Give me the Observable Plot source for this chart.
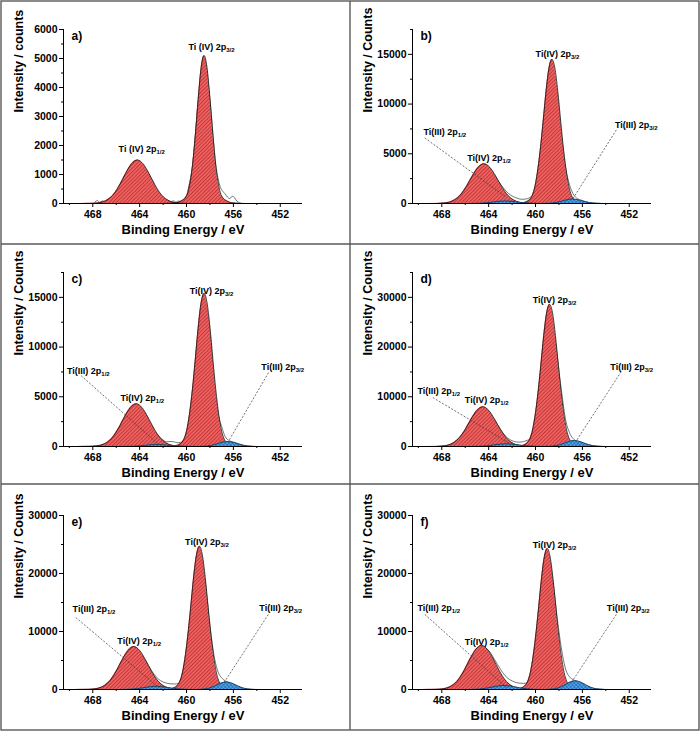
<!DOCTYPE html>
<html><head><meta charset="utf-8">
<script src="https://cdn.jsdelivr.net/npm/d3@7"></script>
<script src="https://cdn.jsdelivr.net/npm/@observablehq/plot@0.6"></script>
<style>
body{margin:0;background:#fff;}
#fig{position:relative;width:700px;height:731px;background:#fff;font-family:"Liberation Sans",Arial,sans-serif;}
.panel{position:absolute;}
#frame{position:absolute;left:0;top:0;}
</style></head><body>
<svg width="0" height="0" style="position:absolute"><defs>
<pattern id="hatchRed" width="2.6" height="2.6" patternUnits="userSpaceOnUse" patternTransform="rotate(45)">
<rect width="2.6" height="2.6" fill="#f06262"/><line x1="0.5" y1="0" x2="0.5" y2="2.6" stroke="#b42c2c" stroke-width="0.75"/></pattern>
<pattern id="hatchBlue" width="2.6" height="2.6" patternUnits="userSpaceOnUse" patternTransform="rotate(45)">
<rect width="2.6" height="2.6" fill="#4fa8ec"/><line x1="0.5" y1="0" x2="0.5" y2="2.6" stroke="#1f60a6" stroke-width="0.6"/><line x1="0" y1="0.5" x2="2.6" y2="0.5" stroke="#1f60a6" stroke-width="0.6"/></pattern>
</defs></svg>
<div id="fig"></div>
<script>
// ---------- axes ----------
const xDomain = [450.1, 470.5];
const xTicks = [468, 464, 460, 456, 452];
const xMinor = [470, 466, 462, 458, 454];
const panelIds = ["a", "b", "c", "d", "e", "f"];
const yMax = [6000, 17500, 17500, 35000, 30000, 30000];
const yTicks = [[0,1000,2000,3000,4000,5000,6000],[0,5000,10000,15000],[0,5000,10000,15000],[0,10000,20000,30000],[0,10000,20000,30000],[0,10000,20000,30000]];
const yMinor = [[500,1500,2500,3500,4500,5500],[2500,7500,12500,17500],[2500,7500,12500,17500],[5000,15000,25000,35000],[5000,15000,25000],[5000,15000,25000]];
const yTitles = ["Intensity / counts","Intensity / Counts","Intensity / Counts","Intensity / Counts","Intensity / Counts","Intensity / Counts"];
const xTitle = "Binding Energy / eV";

// ---------- panel a ----------
const a_ti4_32 = [[462,0],[461,20],[460.5,77],[460,255],[459.75,612],[459.5,1275],[459.25,2346],[459,3621],[458.75,4692],[458.5,5100],[458.25,4692],[458,3621],[457.75,2346],[457.5,1275],[457.25,612],[457,255],[456.5,77],[456,20],[455,0]];
const a_ti4_12 = [[469,0],[468.2,5],[467.7,15],[467.2,50],[466.7,141],[466.2,330],[465.7,645],[465.2,1035],[464.7,1365],[464.2,1500],[463.7,1365],[463.2,1035],[462.7,645],[462.2,330],[461.7,141],[461.2,50],[460.7,15],[460.2,5],[459.5,0]];
const a_raw = [[467.8,60],[467.6,100],[467.4,40],[467.2,90],[467,70],[466.8,130],[466.5,200],[466,400],[465.5,780],[465,1150],[464.2,1450],[463.5,1200],[463,850],[462.5,450],[462,210],[461.6,110],[461.3,60],[461.1,100],[460.9,40],[460.7,90],[460.5,60],[460.3,110],[460.1,150],[459.8,600],[459.5,1250],[459,3500],[458.5,5000],[458,3600],[457.7,2200],[457.5,1350],[457.3,850],[457.1,550],[456.9,420],[456.7,330],[456.5,220],[456.3,170],[456.1,250],[455.9,200],[455.7,80],[455.5,30],[455.3,0]];
const a_labels = [["Ti (IV) 2p|3/2",457.87,5310],["Ti (IV) 2p|1/2",463.83,1759]];
const a_leaders = [];

// ---------- panel b ----------
const b_ti4_32 = [[462.1,0],[461.1,73],[460.6,290],[460.1,1450],[459.85,3045],[459.6,5365],[459.35,8265],[459.1,11310],[458.85,13630],[458.6,14500],[458.35,13630],[458.1,11310],[457.85,8265],[457.6,5365],[457.35,3045],[457.1,1450],[456.6,290],[456.1,73],[455.1,0]];
const b_ti4_12 = [[469.4,0],[468.4,12],[467.9,40],[467.4,132],[466.9,376],[466.4,880],[465.9,1720],[465.4,2760],[464.9,3640],[464.4,4000],[463.9,3640],[463.4,2760],[462.9,1720],[462.4,880],[461.9,376],[461.4,132],[460.9,40],[460.4,12],[459.4,0]];
const b_ti3_32 = [[459.85,0],[459.35,4],[458.85,20],[458.35,77],[457.85,207],[457.35,369],[456.85,450],[456.35,369],[455.85,207],[455.35,77],[454.85,20],[454.35,4],[453.85,0]];
const b_ti3_12 = [[466.1,0],[465.6,3],[465.1,11],[464.6,34],[464.1,80],[463.6,153],[463.1,220],[462.6,250],[462.1,220],[461.6,153],[461.1,80],[460.6,34],[460.1,11],[459.6,3],[459.1,0]];
const b_raw = [[468,20],[467.5,60],[467,150],[466.5,380],[466,800],[465.5,1500],[465,2500],[464.4,3700],[463.8,3300],[463.2,2300],[462.7,1500],[462.3,1000],[462,750],[461.6,550],[461.2,420],[460.8,450],[460.5,600],[460.2,850],[459.9,1800],[459.5,5000],[459,11000],[458.6,13500],[458.2,11500],[457.8,7000],[457.4,3400],[457.1,1900],[456.8,1000],[456.5,550],[456,300],[455.5,120],[455,30],[454.5,0]];
const b_labels = [["Ti(IV) 2p|3/2",458.13,14700],["Ti(IV) 2p|1/2",463.96,4257],["Ti(III) 2p|1/2",467.74,6890],["Ti(III) 2p|3/2",451.4,7600]];
const b_leaders = [[469.45,6590,462.47,608],[453.1,7400,456.85,405]];

// ---------- panel c ----------
const c_ti4_32 = [[462,0],[461,77],[460.5,308],[460,1540],[459.75,3234],[459.5,5698],[459.25,8778],[459,12012],[458.75,14476],[458.5,15400],[458.25,14476],[458,12012],[457.75,8778],[457.5,5698],[457.25,3234],[457,1540],[456.5,308],[456,77],[455,0]];
const c_ti4_12 = [[469.3,0],[468.3,13],[467.8,43],[467.3,142],[466.8,404],[466.3,946],[465.8,1849],[465.3,2967],[464.8,3913],[464.3,4300],[463.8,3913],[463.3,2967],[462.8,1849],[462.3,946],[461.8,404],[461.3,142],[460.8,43],[460.3,13],[459.3,0]];
const c_ti3_32 = [[459.5,0],[459,4],[458.5,23],[458,85],[457.5,230],[457,410],[456.5,500],[456,410],[455.5,230],[455,85],[454.5,23],[454,4],[453.5,0]];
const c_ti3_12 = [[466,0],[465.5,2],[465,9],[464.5,27],[464,64],[463.5,122],[463,176],[462.5,200],[462,176],[461.5,122],[461,64],[460.5,27],[460,9],[459.5,2],[459,0]];
const c_raw = [[468,20],[467.5,50],[467,160],[466.5,400],[466,900],[465.5,1700],[465,2700],[464.3,4000],[463.7,3600],[463.2,2600],[462.7,1500],[462.3,950],[462,650],[461.7,480],[461.4,500],[461.1,480],[460.8,380],[460.5,420],[460.2,700],[459.9,1500],[459.5,5000],[459,11500],[458.5,14800],[458,11500],[457.6,6000],[457.3,3300],[457,2000],[456.7,1000],[456.4,620],[456,450],[455.5,250],[455,90],[454.5,20],[454,0]];
const c_labels = [["Ti(IV) 2p|3/2",457.87,15370],["Ti(IV) 2p|1/2",463.77,4620],["Ti(III) 2p|1/2",468.38,7330],["Ti(III) 2p|3/2",451.79,7740]];
const c_leaders = [[469.0,7130,462.47,300],[453.0,7430,456.43,500]];

// ---------- panel d ----------
const d_ti4_32 = [[462.3,0],[461.3,143],[460.8,572],[460.3,2860],[460.05,6006],[459.8,10582],[459.55,16302],[459.3,22308],[459.05,26884],[458.8,28600],[458.55,26884],[458.3,22308],[458.05,16302],[457.8,10582],[457.55,6006],[457.3,2860],[456.8,572],[456.3,143],[455.3,0]];
const d_ti4_12 = [[469.5,0],[468.5,24],[468,80],[467.5,264],[467,752],[466.5,1760],[466,3440],[465.5,5520],[465,7280],[464.5,8000],[464,7280],[463.5,5520],[463,3440],[462.5,1760],[462,752],[461.5,264],[461,80],[460.5,24],[459.5,0]];
const d_ti3_32 = [[459.7,0],[459.2,10],[458.7,54],[458.2,204],[457.7,552],[457.2,984],[456.7,1200],[456.2,984],[455.7,552],[455.2,204],[454.7,54],[454.2,10],[453.7,0]];
const d_ti3_12 = [[466,0],[465.5,6],[465,24],[464.5,74],[464,176],[463.5,336],[463,484],[462.5,550],[462,484],[461.5,336],[461,176],[460.5,74],[460,24],[459.5,6],[459,0]];
const d_raw = [[468,30],[467.5,200],[467,650],[466.5,1600],[466,3200],[465.5,5200],[465,7000],[464.5,7700],[464,7000],[463.5,5300],[463,3500],[462.6,2200],[462.2,1400],[461.8,1000],[461.4,880],[461,1000],[460.7,1250],[460.4,1600],[460.1,3000],[459.8,9500],[459.3,21000],[458.8,27500],[458.3,21000],[457.8,11500],[457.4,5000],[457.1,2800],[456.8,1600],[456.5,1100],[456,700],[455.5,350],[455,120],[454.5,30],[454,0]];
const d_labels = [["Ti(IV) 2p|3/2",458.38,28930],["Ti(IV) 2p|1/2",464.17,8840],["Ti(III) 2p|1/2",468.26,10650],["Ti(III) 2p|3/2",451.79,15470]];
const d_leaders = [[468.77,9850,462.2,600],[452.68,15070,456.5,1200]];

// ---------- panel e ----------
const e_ti4_32 = [[462.4,0],[461.4,124],[460.9,494],[460.4,2470],[460.15,5187],[459.9,9139],[459.65,14079],[459.4,19266],[459.15,23218],[458.9,24700],[458.65,23218],[458.4,19266],[458.15,14079],[457.9,9139],[457.65,5187],[457.4,2470],[456.9,494],[456.4,124],[455.4,0]];
const e_ti4_12 = [[469.5,0],[468.5,22],[468,74],[467.5,244],[467,696],[466.5,1628],[466,3182],[465.5,5106],[465,6734],[464.5,7400],[464,6734],[463.5,5106],[463,3182],[462.5,1628],[462,696],[461.5,244],[461,74],[460.5,22],[459.5,0]];
const e_ti3_32 = [[459.6,0],[459.1,10],[458.6,59],[458.1,221],[457.6,598],[457.1,1066],[456.6,1300],[456.1,1066],[455.6,598],[455.1,221],[454.6,59],[454.1,10],[453.6,0]];
const e_ti3_12 = [[466.1,0],[465.6,6],[465.1,24],[464.6,74],[464.1,176],[463.6,336],[463.1,484],[462.6,550],[462.1,484],[461.6,336],[461.1,176],[460.6,74],[460.1,24],[459.6,6],[459.1,0]];
const e_raw = [[468,30],[467.5,200],[467,620],[466.5,1500],[466,3000],[465.5,4800],[465,6400],[464.5,7100],[464,6500],[463.5,5000],[463,3300],[462.6,2200],[462.2,1500],[461.8,1150],[461.4,980],[461,950],[460.7,1050],[460.4,1400],[460.1,2800],[459.8,8500],[459.4,18000],[458.9,24000],[458.4,18500],[458,11000],[457.6,5300],[457.3,3000],[457,2000],[456.7,1500],[456.3,1150],[455.9,800],[455.4,350],[455,120],[454.5,30],[454,0]];
const e_labels = [["Ti(IV) 2p|3/2",458.26,24830],["Ti(IV) 2p|1/2",464.04,7760],["Ti(III) 2p|1/2",467.9,13280],["Ti(III) 2p|3/2",451.96,13450]];
const e_leaders = [[469.45,12410,462.38,345],[453.02,12930,456.85,1030]];

// ---------- panel f ----------
const f_ti4_32 = [[462.5,0],[461.5,122],[461,486],[460.5,2430],[460.25,5103],[460,8991],[459.75,13851],[459.5,18954],[459.25,22842],[459,24300],[458.75,22842],[458.5,18954],[458.25,13851],[458,8991],[457.75,5103],[457.5,2430],[457,486],[456.5,122],[455.5,0]];
const f_ti4_12 = [[469.6,0],[468.6,23],[468.1,76],[467.6,251],[467.1,714],[466.6,1672],[466.1,3268],[465.6,5244],[465.1,6916],[464.6,7600],[464.1,6916],[463.6,5244],[463.1,3268],[462.6,1672],[462.1,714],[461.6,251],[461.1,76],[460.6,23],[459.6,0]];
const f_ti3_32 = [[459.6,0],[459.1,12],[458.6,68],[458.1,255],[457.6,690],[457.1,1230],[456.6,1500],[456.1,1230],[455.6,690],[455.1,255],[454.6,68],[454.1,12],[453.6,0]];
const f_ti3_12 = [[466.2,0],[465.7,8],[465.2,31],[464.7,95],[464.2,224],[463.7,427],[463.2,616],[462.7,700],[462.2,616],[461.7,427],[461.2,224],[460.7,95],[460.2,31],[459.7,8],[459.2,0]];
const f_raw = [[468,30],[467.5,220],[467,650],[466.5,1600],[466,3200],[465.5,5000],[465,6700],[464.6,7300],[464,6700],[463.5,5200],[463,3500],[462.6,2400],[462.2,1700],[461.8,1300],[461.4,1100],[461,1050],[460.7,1200],[460.4,2000],[460.1,5000],[459.7,12500],[459.4,19000],[459,23600],[458.5,18500],[458.1,11500],[457.7,6000],[457.4,3300],[457.1,2200],[456.8,1700],[456.4,1350],[456,950],[455.5,450],[455,150],[454.5,30],[454,0]];
const f_labels = [["Ti(IV) 2p|3/2",458.38,24480],["Ti(IV) 2p|1/2",464.17,7590],["Ti(III) 2p|1/2",468.26,13450],["Ti(III) 2p|3/2",452.09,13450]];
const f_leaders = [[469.45,12930,462.47,345],[453.1,12930,456.94,1200]];

// ---------- assemble ----------
const series = {
  a: {ti4: [a_ti4_32, a_ti4_12], ti3: [], raw: a_raw, labels: a_labels, leaders: a_leaders},
  b: {ti4: [b_ti4_32, b_ti4_12], ti3: [b_ti3_32, b_ti3_12], raw: b_raw, labels: b_labels, leaders: b_leaders},
  c: {ti4: [c_ti4_32, c_ti4_12], ti3: [c_ti3_32, c_ti3_12], raw: c_raw, labels: c_labels, leaders: c_leaders},
  d: {ti4: [d_ti4_32, d_ti4_12], ti3: [d_ti3_32, d_ti3_12], raw: d_raw, labels: d_labels, leaders: d_leaders},
  e: {ti4: [e_ti4_32, e_ti4_12], ti3: [e_ti3_32, e_ti3_12], raw: e_raw, labels: e_labels, leaders: e_leaders},
  f: {ti4: [f_ti4_32, f_ti4_12], ti3: [f_ti3_32, f_ti3_12], raw: f_raw, labels: f_labels, leaders: f_leaders}
};

const layout = [
  {left: 1, top: 1, h: 243, mt: 28, mb: 41},
  {left: 350, top: 1, h: 243, mt: 28, mb: 41},
  {left: 1, top: 244, h: 240, mt: 28, mb: 38},
  {left: 350, top: 244, h: 240, mt: 28, mb: 38},
  {left: 1, top: 484, h: 246, mt: 31, mb: 41},
  {left: 350, top: 484, h: 246, mt: 31, mb: 41}
];

const fig = document.getElementById("fig");
const X = d => d[0], Y = d => d[1];
const SVGNS = "http://www.w3.org/2000/svg";

panelIds.forEach((id, i) => {
  const s = series[id];
  const L = layout[i];
  const marks = [
    Plot.lineY(s.raw, {x: X, y: Y, curve: "monotone-x", stroke: "#505050", strokeWidth: 0.8}),
    ...s.ti4.map(p => Plot.areaY(p, {x: X, y: Y, curve: "monotone-x", fill: "url(#hatchRed)"})),
    ...s.ti4.map(p => Plot.lineY(p, {x: X, y: Y, curve: "monotone-x", stroke: "#111", strokeWidth: 0.8})),
    ...s.ti3.map(p => Plot.areaY(p, {x: X, y: Y, curve: "monotone-x", fill: "url(#hatchBlue)"})),
    ...s.ti3.map(p => Plot.lineY(p, {x: X, y: Y, curve: "monotone-x", stroke: "#111", strokeWidth: 0.6})),
    Plot.link(s.leaders, {x1: d => d[0], y1: d => d[1], x2: d => d[2], y2: d => d[3], stroke: "#333", strokeWidth: 0.7, strokeDasharray: "2,1.6"}),
    Plot.text(s.labels, {x: d => d[1], y: d => d[2], text: d => d[0], textAnchor: "middle", lineAnchor: "bottom", fontSize: 9, fontWeight: "bold", fill: "#000"}),
    Plot.axisX({ticks: xTicks, tickSize: 4, tickPadding: 3, tickFormat: d => String(d), label: null, fontSize: 10.5}),
    Plot.axisX({ticks: xMinor, tickSize: 2, tickFormat: () => "", label: null}),
    Plot.axisY({ticks: yTicks[i], tickSize: 4, tickPadding: 2, tickFormat: d => String(d), label: null, fontSize: 10.5}),
    Plot.axisY({ticks: yMinor[i], tickSize: 2, tickFormat: () => "", label: null}),
    Plot.ruleY([0], {stroke: "#000", strokeWidth: 1}),
    Plot.ruleX([xDomain[1]], {stroke: "#000", strokeWidth: 1}),
    Plot.text([yTitles[i]], {frameAnchor: "left", rotate: -90, dx: -45, dy: -4, fontSize: 12.5, fontWeight: "bold", fill: "#000"}),
    Plot.text([xTitle], {frameAnchor: "bottom", dy: 30.5, fontSize: 13, fontWeight: "bold", fill: "#000"}),
    Plot.text([id + ")"], {frameAnchor: "top-left", textAnchor: "start", lineAnchor: "middle", dx: 8, dy: 7, fontSize: 12, fontWeight: "bold", fill: "#000"})
  ];
  const svg = Plot.plot({
    width: 349, height: L.h,
    marginLeft: 62, marginRight: 48, marginTop: L.mt, marginBottom: L.mb,
    style: "font-family:'Liberation Sans',Arial,sans-serif;font-size:10.5px;font-weight:bold;background:transparent;overflow:visible;color:#000;",
    x: {domain: xDomain, reverse: true},
    y: {domain: [0, yMax[i]]},
    marks
  });
  svg.querySelectorAll("text").forEach(t => {
    const str = t.textContent;
    if (str.includes("|")) {
      const [main, sub] = str.split("|");
      while (t.firstChild) t.removeChild(t.firstChild);
      t.appendChild(document.createTextNode(main));
      const ts = document.createElementNS(SVGNS, "tspan");
      ts.setAttribute("font-size", "6");
      ts.setAttribute("dy", "2");
      ts.textContent = sub;
      t.appendChild(ts);
    }
  });
  const div = document.createElement("div");
  div.className = "panel";
  div.style.left = L.left + "px";
  div.style.top = L.top + "px";
  div.appendChild(svg);
  fig.appendChild(div);
});

// panel frame lines
const frame = document.createElementNS(SVGNS, "svg");
frame.setAttribute("id", "frame");
frame.setAttribute("width", "700");
frame.setAttribute("height", "731");
frame.innerHTML = '<rect x="1" y="1" width="698" height="729" fill="none" stroke="#5a5a5a" stroke-width="1.4"/>' +
  '<line x1="350" y1="1" x2="350" y2="730" stroke="#5a5a5a" stroke-width="1.4"/>' +
  '<line x1="1" y1="244" x2="699" y2="244" stroke="#5a5a5a" stroke-width="1.4"/>' +
  '<line x1="1" y1="484" x2="699" y2="484" stroke="#5a5a5a" stroke-width="1.4"/>';
fig.appendChild(frame);
</script>
</body></html>
